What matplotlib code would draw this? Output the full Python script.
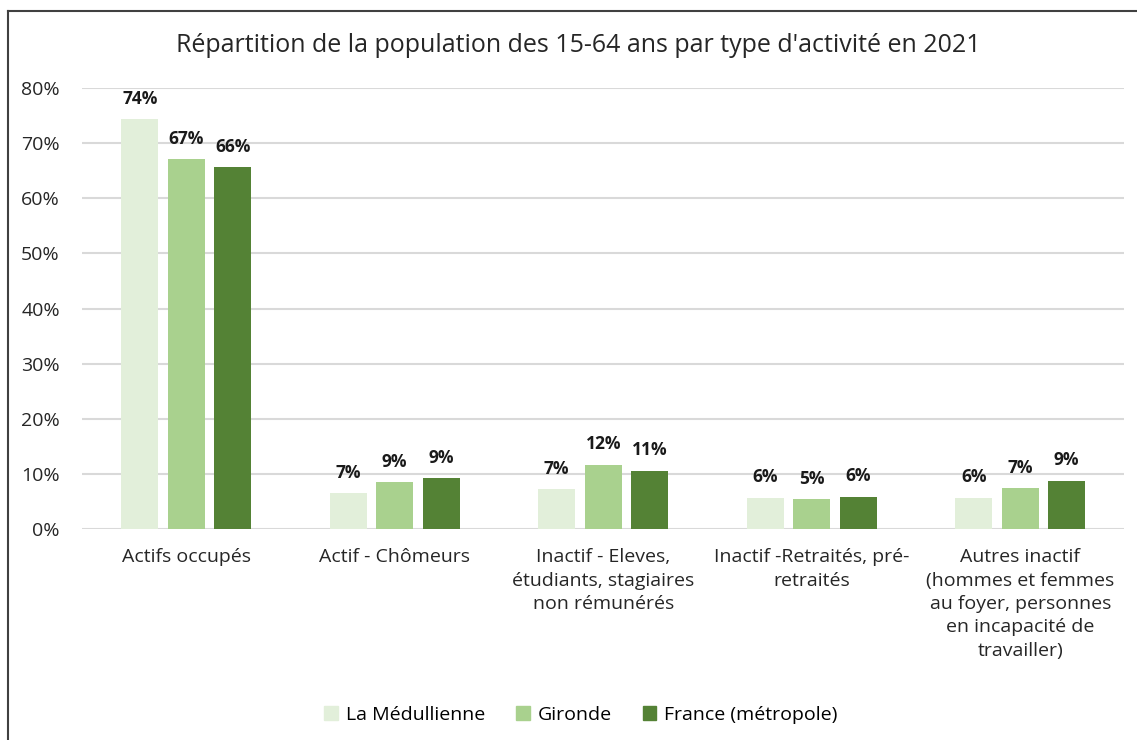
import matplotlib
matplotlib.use('Agg')
import numpy as np
from matplotlib import pyplot as plt
from matplotlib.lines import Line2D

plt.rcParams['font.family'] = ['Open Sans', 'DejaVu Sans']

categories = ['Actifs occupés', 'Actif - Chômeurs',
	'Inactif - Eleves,\nétudiants, stagiaires\nnon rémunérés',
	'Inactif -Retraités, pré-\nretraités',
	'Autres inactif\n(hommes et femmes\nau foyer, personnes\nen incapacité de\ntravailler)']
series = ['La Médullienne', 'Gironde', 'France (métropole)']
medullienne = [0.744, 0.065, 0.073, 0.057, 0.057]
gironde = [0.672, 0.085, 0.117, 0.054, 0.074]
france = [0.656, 0.092, 0.106, 0.059, 0.088]
labels_med = ['74%', '7%', '7%', '6%', '6%']
labels_gir = ['67%', '9%', '12%', '5%', '7%']
labels_fra = ['66%', '9%', '11%', '6%', '9%']
colors = ['#e2efda', '#a9d18e', '#548235']

fig = plt.figure(figsize=(11.37, 7.4), dpi=100)
ax = fig.add_axes([0.0721, 0.2851, 0.9169, 0.5959])

x = np.arange(len(categories))
w = 0.177
off = 0.223
data = [medullienne, gironde, france]
labs = [labels_med, labels_gir, labels_fra]
for i, (vals, lab) in enumerate(zip(data, labs)):
	bars = ax.bar(x + (i - 1) * off, vals, w, color=colors[i], label=series[i], zorder=3)
	ax.bar_label(bars, labels=lab, padding=8, fontsize=12.5, fontweight='bold', color='#1a1a1a')

ax.set_xlim(-0.5, len(categories) - 0.5)
ax.set_ylim(0, 0.8)
ax.set_yticks(np.arange(0, 0.81, 0.1))
ax.set_yticklabels(['%d%%' % round(v * 100) for v in np.arange(0, 0.81, 0.1)], fontsize=14, color='#262626')
ax.set_xticks(x)
ax.set_xticklabels(categories, fontsize=14, color='#262626', linespacing=1.38, va='top')
ax.tick_params(axis='both', length=0)
ax.tick_params(axis='y', pad=16)
ax.tick_params(axis='x', pad=14)
ax.grid(axis='y', color='#d9d9d9', linewidth=1.5, zorder=0)
for s in ax.spines.values():
	s.set_visible(False)

fig.text(0.509, 1 - 45 / 740, "Répartition de la population des 15-64 ans par type d'activité en 2021",
	ha='center', va='center', fontsize=18, color='#262626')

handles = [plt.Rectangle((0, 0), 1, 1, color=c) for c in colors]
fig.legend(handles, series, loc='center', bbox_to_anchor=(0.511, 1 - 715 / 740), ncol=3, frameon=False,
	fontsize=14, handlelength=0.7, handleheight=0.7, handletextpad=0.4, columnspacing=1.6)

fig.add_artist(Line2D([8 / 1137, 8 / 1137], [0, 1 - 11 / 740], transform=fig.transFigure, color='#404040', linewidth=1.5))
fig.add_artist(Line2D([8 / 1137, 1], [1 - 11 / 740, 1 - 11 / 740], transform=fig.transFigure, color='#404040', linewidth=1.5))

fig.savefig('out.png', dpi=100)
